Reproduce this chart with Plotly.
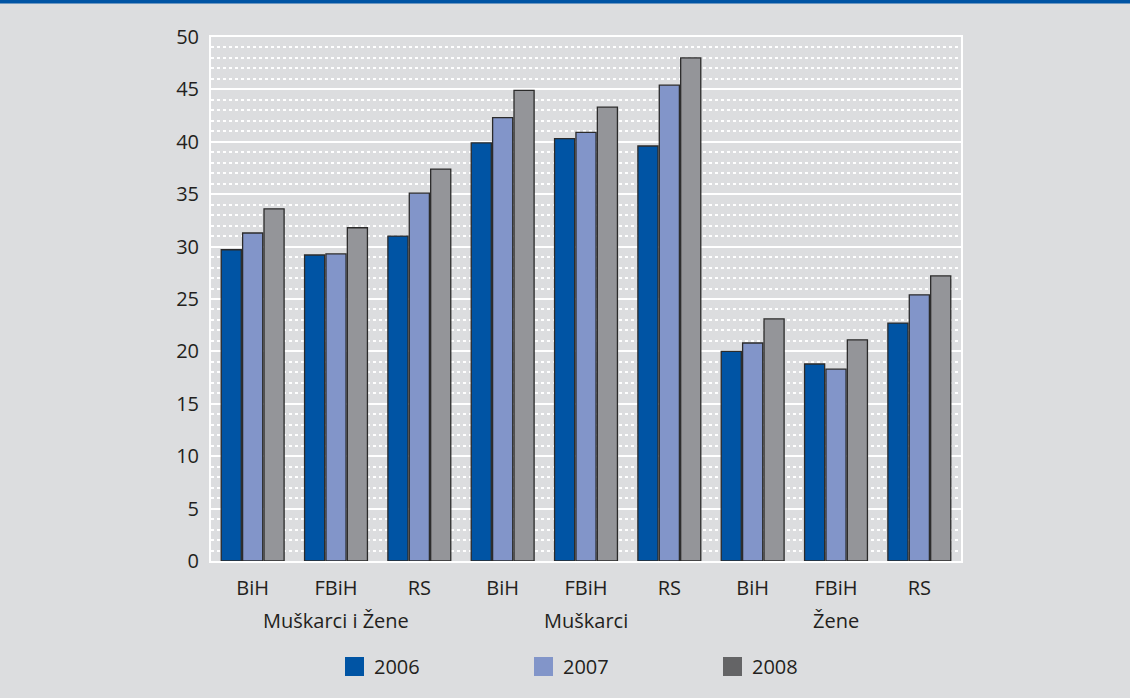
import plotly.graph_objects as go

# Data
groups = ["Muškarci i Žene", "Muškarci", "Žene"]
regions = ["BiH", "FBiH", "RS"]
years = ["2006", "2007", "2008"]
values_2006 = [29.7, 29.2, 31.0, 39.9, 40.3, 39.6, 20.0, 18.8, 22.7]
values_2007 = [31.3, 29.3, 35.1, 42.3, 40.9, 45.4, 20.8, 18.3, 25.4]
values_2008 = [33.6, 31.8, 37.4, 44.9, 43.3, 48.0, 23.1, 21.1, 27.2]
y_ticks = [0, 5, 10, 15, 20, 25, 30, 35, 40, 45, 50]

# Styling
bar_colors = ["#0054a4", "#8295c9", "#949599"]
legend_colors = ["#0054a4", "#8295c9", "#646466"]
bg = "#dcdddf"
text_color = "#231f20"
font_family = "Open Sans, Noto Sans, sans-serif"
font_size = 20

W, H = 1130, 698
ML, MR, MT, MB = 211, 169, 37, 137
PW, PH = W - ML - MR, H - MT - MB


def px_x(p):
    return (p - ML) / PW


def px_y(p):
    return (H - MB - p) / PH


labels = [r for _ in groups for r in regions]
x_pos = list(range(len(labels)))

fig = go.Figure()
for name, vals, col in zip(years, [values_2006, values_2007, values_2008], bar_colors):
    fig.add_trace(go.Bar(
        x=x_pos, y=vals, name=name,
        marker=dict(color=col, line=dict(color="#2b2b2b", width=1.3)),
        showlegend=False,
    ))

# Group labels beneath the region tick labels
annotations = []
for i, g in enumerate(groups):
    annotations.append(dict(
        x=i * 3 + 1, y=px_y(620), xref="x", yref="paper",
        text=g, showarrow=False, xanchor="center", yanchor="middle",
        font=dict(size=font_size, color=text_color, family=font_family),
    ))

# Legend built from swatches and labels
shapes = []
legend_x = [345, 534, 723]
for yr, col, lx in zip(years, legend_colors, legend_x):
    shapes.append(dict(
        type="rect", xref="paper", yref="paper",
        x0=px_x(lx), x1=px_x(lx + 19), y0=px_y(676), y1=px_y(657),
        fillcolor=col, line=dict(width=0),
    ))
    annotations.append(dict(
        x=px_x(lx + 27), y=px_y(666.5), xref="paper", yref="paper",
        text=yr, showarrow=False, xanchor="left", yanchor="middle",
        font=dict(size=font_size, color=text_color, family=font_family),
    ))

# Blue band across the top edge
shapes.append(dict(
    type="rect", xref="paper", yref="paper",
    x0=px_x(0), x1=px_x(W), y0=px_y(3.5), y1=px_y(0),
    fillcolor="#0054a4", line=dict(width=0), layer="above",
))

fig.update_layout(
    width=W, height=H,
    margin=dict(l=ML, r=MR, t=MT, b=MB, pad=0),
    paper_bgcolor=bg, plot_bgcolor=bg,
    barmode="group", bargap=0.23, bargroupgap=0.06,
    font=dict(family=font_family, size=font_size, color=text_color),
    shapes=shapes, annotations=annotations,
    showlegend=False,
)
fig.update_xaxes(
    range=[-0.5, len(labels) - 0.5],
    tickmode="array", tickvals=x_pos, ticktext=labels,
    showgrid=False, zeroline=False,
    showline=True, linecolor="white", linewidth=2, mirror=True,
    ticks="", ticklabelstandoff=8,
    tickfont=dict(size=font_size, color=text_color, family=font_family),
)
fig.update_yaxes(
    range=[0, 50], tickmode="array", tickvals=y_ticks,
    showgrid=True, gridcolor="white", gridwidth=2,
    minor=dict(dtick=1, showgrid=True, gridcolor="white", gridwidth=2, griddash="dot"),
    zeroline=False,
    showline=True, linecolor="white", linewidth=2, mirror=True,
    ticks="", ticklabelstandoff=6,
    tickfont=dict(size=font_size, color=text_color, family=font_family),
)

fig.write_html("out.html")
